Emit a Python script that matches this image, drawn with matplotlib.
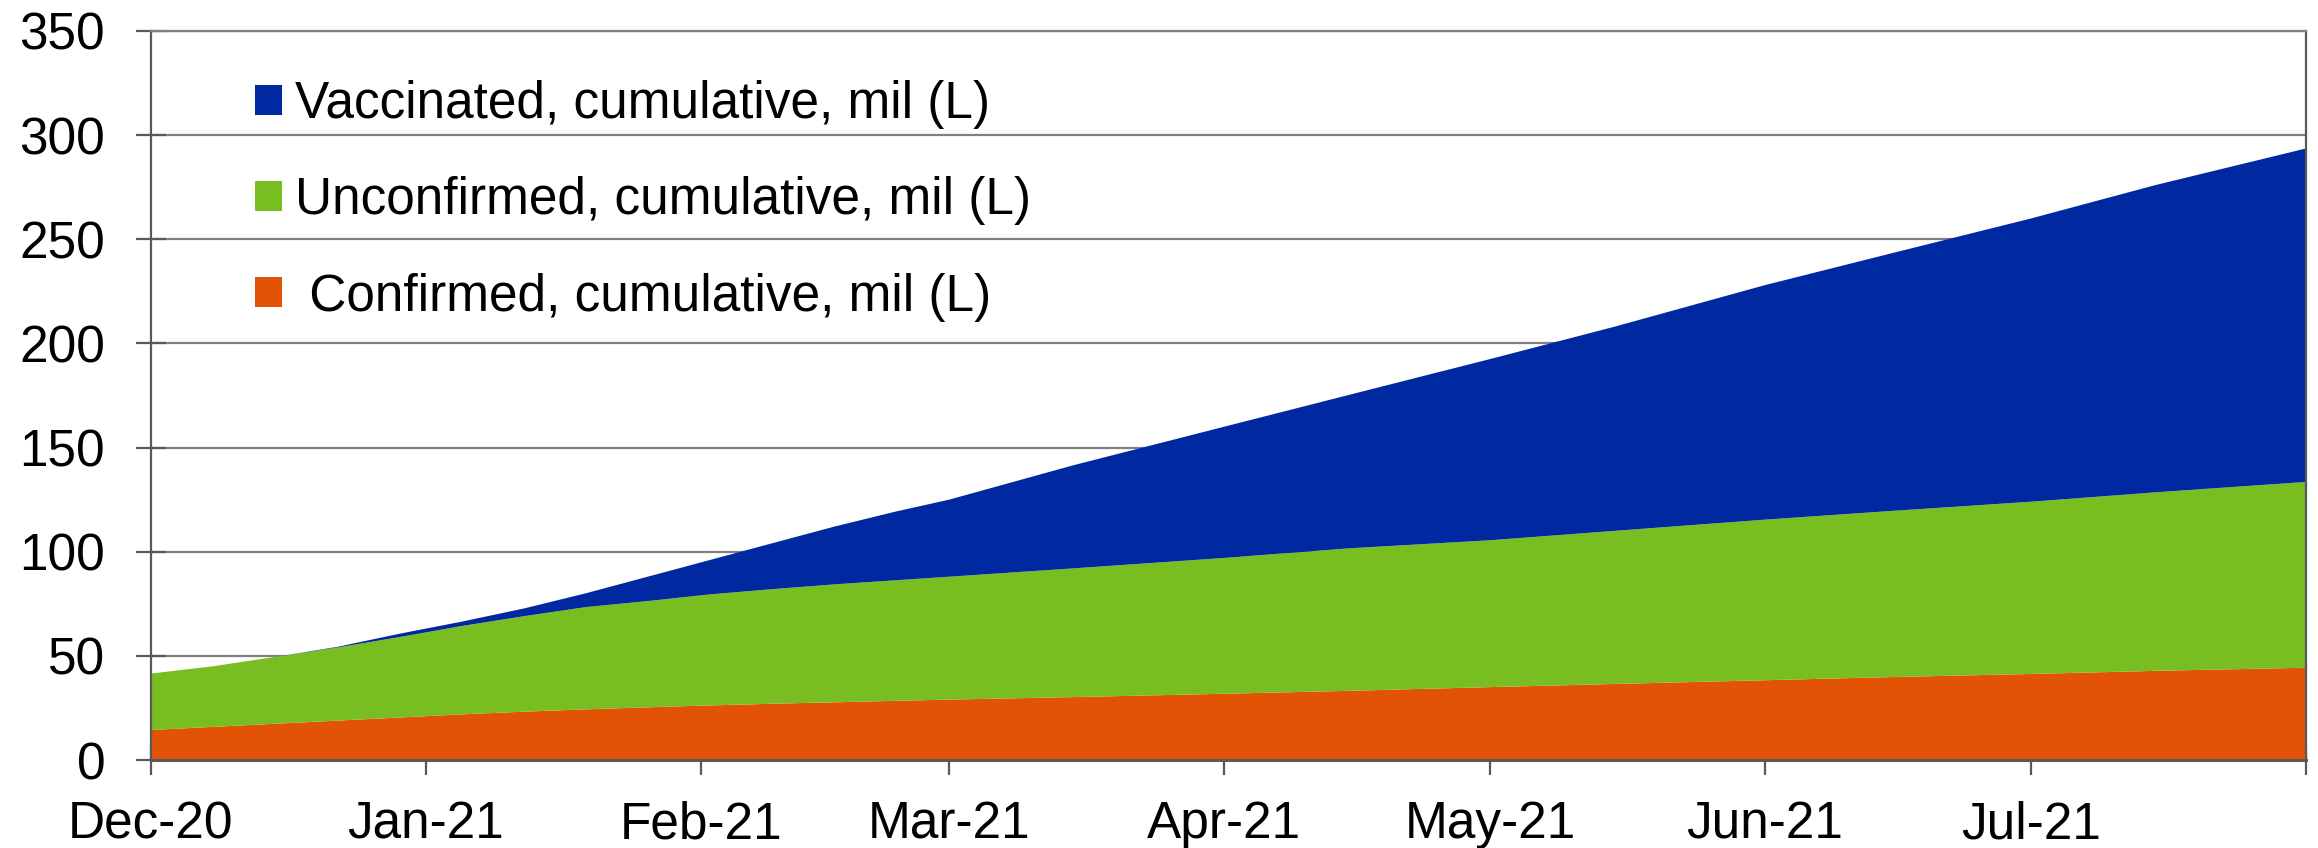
import pandas as pd
import matplotlib
matplotlib.use("Agg")
import matplotlib.pyplot as plt
from matplotlib.patches import Patch

plt.rcParams['font.family'] = ['Liberation Sans', 'DejaVu Sans']

# values, mil (each band's own thickness)
dates = pd.to_datetime([
    "2020-12-01", "2020-12-08", "2020-12-15", "2020-12-22", "2020-12-29",
    "2021-01-05", "2021-01-12", "2021-01-19", "2021-01-26",
    "2021-02-02", "2021-02-09", "2021-02-16", "2021-02-23",
    "2021-03-01", "2021-03-15", "2021-04-01", "2021-04-15",
    "2021-05-01", "2021-05-15", "2021-06-01", "2021-06-15",
    "2021-07-01", "2021-07-15", "2021-08-01"])
confirmed = [14.4, 15.9, 17.4, 18.9, 20.4, 21.9, 23.2, 24.3, 25.3, 26.2, 27, 27.7, 28.4,
             29, 30.2, 31.8, 33.2, 35, 36.5, 38.3, 39.8, 41.3, 42.8, 44.3]
unconfirmed = [27.1, 29.1, 32.1, 35.1, 38.6, 42.4, 45.8, 49.1, 51, 53.3, 55, 56.6, 57.9,
               59, 61.8, 65.2, 68.4, 70.5, 73.5, 77.1, 79.7, 82.7, 85.7, 89.2]
vaccinated = [0, 0, 0, 0.3, 1.6, 2.1, 3.7, 6.6, 11.7, 16.5, 22, 27.7, 33,
              37, 49.5, 63, 73.6, 87, 98, 112.6, 123.5, 136, 147.5, 160.1]

labels = ["Confirmed, cumulative, mil (L)",
          "Unconfirmed, cumulative, mil (L)",
          "Vaccinated, cumulative, mil (L)"]
colors = ["#e25306", "#78be21", "#0028a0"]
month_ticks = pd.date_range("2020-12-01", "2021-08-01", freq="MS")
month_labels = [d.strftime("%b-%y") for d in month_ticks[:-1]] + [""]

fig = plt.figure(figsize=(23.18, 8.48), dpi=100)
ax = fig.add_axes([151/2318, 1 - 760/848, (2306-151)/2318, (760-31)/848])

ax.stackplot(dates, confirmed, unconfirmed, vaccinated, colors=colors, zorder=2)

ax.set_xlim(month_ticks[0], month_ticks[-1])
ax.set_ylim(0, 350)
ax.set_yticks(range(0, 351, 50))
ax.set_xticks(month_ticks)
ax.set_xticklabels(month_labels)

ax.grid(axis="y", color="#808080", linewidth=1.6, zorder=0)
ax.set_axisbelow(True)
for s in ax.spines.values():
    s.set_color("#595959")
    s.set_linewidth(1.6)
    s.set_zorder(3)
ax.spines["bottom"].set_linewidth(2.2)
ax.spines["top"].set_color("#808080")

ax.tick_params(axis="both", direction="inout", length=22, width=1.6,
               color="#595959", labelsize=37)
ax.tick_params(axis="x", pad=18)
ax.tick_params(axis="y", pad=22)

# legend, vaccinated on top
handles = [Patch(facecolor=c) for c in colors[::-1]]
leg_labels = [labels[2], labels[1], " " + labels[0]]
fig.legend(handles, leg_labels, loc="upper left",
           bbox_to_anchor=(255/2318, 1 - 80/848), frameon=False,
           fontsize=37, handlelength=0.53, handleheight=0.53,
           handletextpad=0.25, labelspacing=0.92, borderpad=0, borderaxespad=0)

plt.savefig("out.png", dpi=100)
